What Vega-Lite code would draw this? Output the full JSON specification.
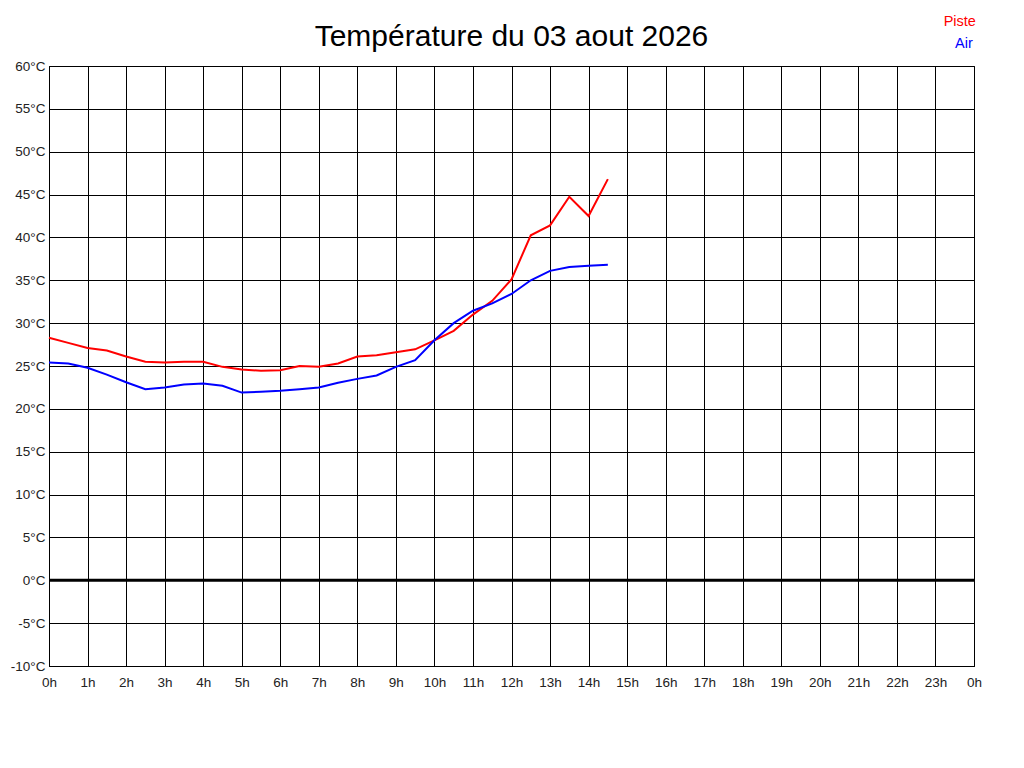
{
  "$schema": "https://vega.github.io/schema/vega-lite/v6.json",
  "width": 925,
  "height": 600,
  "autosize": "none",
  "padding": {"left": 49, "top": 66, "right": 50, "bottom": 102},
  "background": "#ffffff",
  "title": {
    "text": "Température du 03 aout 2026",
    "font": "Liberation Sans",
    "fontSize": 30,
    "fontWeight": "normal",
    "color": "#000000",
    "anchor": "middle",
    "frame": "group",
    "offset": -38
  },
  "config": {
    "view": {"stroke": "#000000", "strokeWidth": 1},
    "axis": {
      "labelFont": "Liberation Sans",
      "labelFontSize": 13.5,
      "labelColor": "#222222",
      "grid": true,
      "gridColor": "#000000",
      "gridOpacity": 1,
      "gridWidth": 1,
      "domainColor": "#000000",
      "ticks": false,
      "title": null
    }
  },
  "datasets": {
    "temps": [
      {"h": 0, "serie": "Piste", "t": 28.3},
      {"h": 0.5, "serie": "Piste", "t": 27.7},
      {"h": 1, "serie": "Piste", "t": 27.1},
      {"h": 1.5, "serie": "Piste", "t": 26.8},
      {"h": 2, "serie": "Piste", "t": 26.1},
      {"h": 2.5, "serie": "Piste", "t": 25.5},
      {"h": 3, "serie": "Piste", "t": 25.4},
      {"h": 3.5, "serie": "Piste", "t": 25.5},
      {"h": 4, "serie": "Piste", "t": 25.5},
      {"h": 4.5, "serie": "Piste", "t": 24.9},
      {"h": 5, "serie": "Piste", "t": 24.6},
      {"h": 5.5, "serie": "Piste", "t": 24.45},
      {"h": 6, "serie": "Piste", "t": 24.5},
      {"h": 6.5, "serie": "Piste", "t": 25.0},
      {"h": 7, "serie": "Piste", "t": 24.9},
      {"h": 7.5, "serie": "Piste", "t": 25.3},
      {"h": 8, "serie": "Piste", "t": 26.1},
      {"h": 8.5, "serie": "Piste", "t": 26.25},
      {"h": 9, "serie": "Piste", "t": 26.6},
      {"h": 9.5, "serie": "Piste", "t": 26.95},
      {"h": 10, "serie": "Piste", "t": 28.0},
      {"h": 10.5, "serie": "Piste", "t": 29.1},
      {"h": 11, "serie": "Piste", "t": 31.0},
      {"h": 11.5, "serie": "Piste", "t": 32.6},
      {"h": 12, "serie": "Piste", "t": 35.1},
      {"h": 12.5, "serie": "Piste", "t": 40.25},
      {"h": 13, "serie": "Piste", "t": 41.4},
      {"h": 13.5, "serie": "Piste", "t": 44.75},
      {"h": 14, "serie": "Piste", "t": 42.5},
      {"h": 14.5, "serie": "Piste", "t": 46.8},
      {"h": 0, "serie": "Air", "t": 25.4},
      {"h": 0.5, "serie": "Air", "t": 25.3},
      {"h": 1, "serie": "Air", "t": 24.8},
      {"h": 1.5, "serie": "Air", "t": 24.0},
      {"h": 2, "serie": "Air", "t": 23.1},
      {"h": 2.5, "serie": "Air", "t": 22.3},
      {"h": 3, "serie": "Air", "t": 22.5},
      {"h": 3.5, "serie": "Air", "t": 22.85},
      {"h": 4, "serie": "Air", "t": 22.97},
      {"h": 4.5, "serie": "Air", "t": 22.7},
      {"h": 5, "serie": "Air", "t": 21.9},
      {"h": 5.5, "serie": "Air", "t": 22.0},
      {"h": 6, "serie": "Air", "t": 22.1},
      {"h": 6.5, "serie": "Air", "t": 22.3},
      {"h": 7, "serie": "Air", "t": 22.5},
      {"h": 7.5, "serie": "Air", "t": 23.05},
      {"h": 8, "serie": "Air", "t": 23.5},
      {"h": 8.5, "serie": "Air", "t": 23.9},
      {"h": 9, "serie": "Air", "t": 24.9},
      {"h": 9.5, "serie": "Air", "t": 25.67},
      {"h": 10, "serie": "Air", "t": 28.0},
      {"h": 10.5, "serie": "Air", "t": 30.0},
      {"h": 11, "serie": "Air", "t": 31.45},
      {"h": 11.5, "serie": "Air", "t": 32.3},
      {"h": 12, "serie": "Air", "t": 33.4},
      {"h": 12.5, "serie": "Air", "t": 35.0},
      {"h": 13, "serie": "Air", "t": 36.1},
      {"h": 13.5, "serie": "Air", "t": 36.55},
      {"h": 14, "serie": "Air", "t": 36.7},
      {"h": 14.5, "serie": "Air", "t": 36.8}
    ],
    "legende": [
      {"serie": "Piste", "h": 24.05, "t": 65.15},
      {"serie": "Air", "h": 23.97, "t": 62.6}
    ]
  },
  "encoding": {
    "x": {
      "field": "h",
      "type": "quantitative",
      "scale": {"domain": [0, 24], "nice": false, "zero": false},
      "axis": {
        "values": [0, 1, 2, 3, 4, 5, 6, 7, 8, 9, 10, 11, 12, 13, 14, 15, 16, 17, 18, 19, 20, 21, 22, 23, 24],
        "labelExpr": "datum.value == 24 ? '0h' : datum.value + 'h'",
        "labelPadding": 9,
        "labelFlush": false,
        "labelOverlap": false
      }
    },
    "y": {
      "field": "t",
      "type": "quantitative",
      "scale": {"domain": [-10, 60], "nice": false, "zero": false},
      "axis": {
        "values": [-10, -5, 0, 5, 10, 15, 20, 25, 30, 35, 40, 45, 50, 55, 60],
        "labelExpr": "datum.value + '°C'",
        "labelPadding": 4,
        "labelFlush": false,
        "labelOverlap": false
      }
    },
    "color": {
      "field": "serie",
      "type": "nominal",
      "scale": {"domain": ["Piste", "Air"], "range": ["#ff0000", "#0000ff"]},
      "legend": null
    }
  },
  "layer": [
    {
      "data": {"values": [{"t": 0}]},
      "mark": {"type": "rule", "color": "#000000", "strokeWidth": 3},
      "encoding": {
        "x": {"value": 0},
        "x2": {"value": "width"},
        "color": {"value": "#000000"}
      }
    },
    {
      "data": {"name": "temps"},
      "mark": {"type": "line", "strokeWidth": 2, "interpolate": "linear"}
    },
    {
      "data": {"name": "legende"},
      "mark": {
        "type": "text",
        "align": "right",
        "baseline": "middle",
        "font": "Liberation Sans",
        "fontSize": 14.5,
        "clip": false
      },
      "encoding": {
        "text": {"field": "serie"}
      }
    }
  ]
}
